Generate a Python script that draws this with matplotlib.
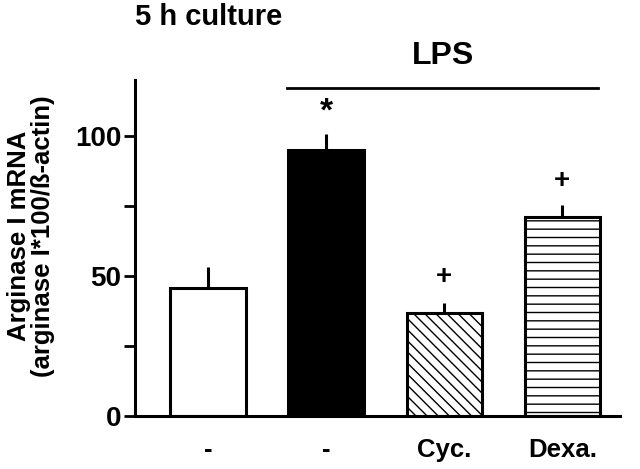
import matplotlib.pyplot as plt
import numpy as np

plt.rcParams['font.family'] = ['Liberation Sans', 'DejaVu Sans']
plt.rcParams['font.weight'] = 'bold'
plt.rcParams['hatch.linewidth'] = 1.0

# dati
labels = ['-', '-', 'Cyc.', 'Dexa.']
values = [45.9, 95.0, 36.9, 71.0]
errors = [7.5, 5.8, 3.6, 4.3]
colors = ['white', 'black', 'white', 'white']
hatches = ['', '', '\\\\\\', '--']
marks = ['', '*', '+', '+']
mark_y = [0, 108.6, 49.5, 84]

fig = plt.figure(figsize=(6.4, 4.69), dpi=100)
ax = fig.add_axes([0.211, 0.113, 0.758, 0.716])

x = np.arange(len(values))
ax.bar(x, values, width=0.64, color=colors, edgecolor='black',
       linewidth=2.2, hatch=hatches, zorder=2)
ax.errorbar(x, values, yerr=[np.zeros(len(errors)), errors], fmt='none',
            ecolor='black', elinewidth=2.2, capsize=0, zorder=1)

for xi, m, my in zip(x, marks, mark_y):
    if m:
        fs = 24 if m == '*' else 20
        ax.text(xi, my, m, ha='center', va='center', fontsize=fs,
                fontweight='heavy')

ax.set_xlim(-0.62, 3.49)
ax.set_ylim(0, 120)
ax.set_yticks([0, 50, 100])
ax.set_yticks([25, 75], minor=True)
ax.set_xticks(x)
ax.set_xticklabels(labels, fontsize=18.5, fontweight='bold')
ax.tick_params(axis='x', length=0, pad=16)
ax.tick_params(axis='y', which='major', length=8, width=2, labelsize=20, pad=2)
ax.tick_params(axis='y', which='minor', length=8, width=2)
for lab in ax.get_yticklabels():
    lab.set_fontweight('bold')

ax.spines['top'].set_visible(False)
ax.spines['right'].set_visible(False)
ax.spines['left'].set_linewidth(2.2)
ax.spines['bottom'].set_linewidth(2.2)

fig.text(31 / 640, 1 - 236 / 469, 'Arginase I mRNA\n(arginase I*100/ß-actin)',
         rotation=90, ha='center', va='center', multialignment='center',
         fontsize=18.5, fontweight='bold', linespacing=1.05)

# linea LPS sopra le barre
ax.plot([0.67, 3.30], [117.2, 117.2], color='black', lw=2, clip_on=False)
ax.text(1.99, 128.7, 'LPS', ha='center', va='center', fontsize=23,
        fontweight='bold')
fig.text(0.211, 1 - 25 / 469, '5 h culture', ha='left', va='baseline',
         fontsize=21, fontweight='bold')

plt.savefig('out.png', dpi=100)
